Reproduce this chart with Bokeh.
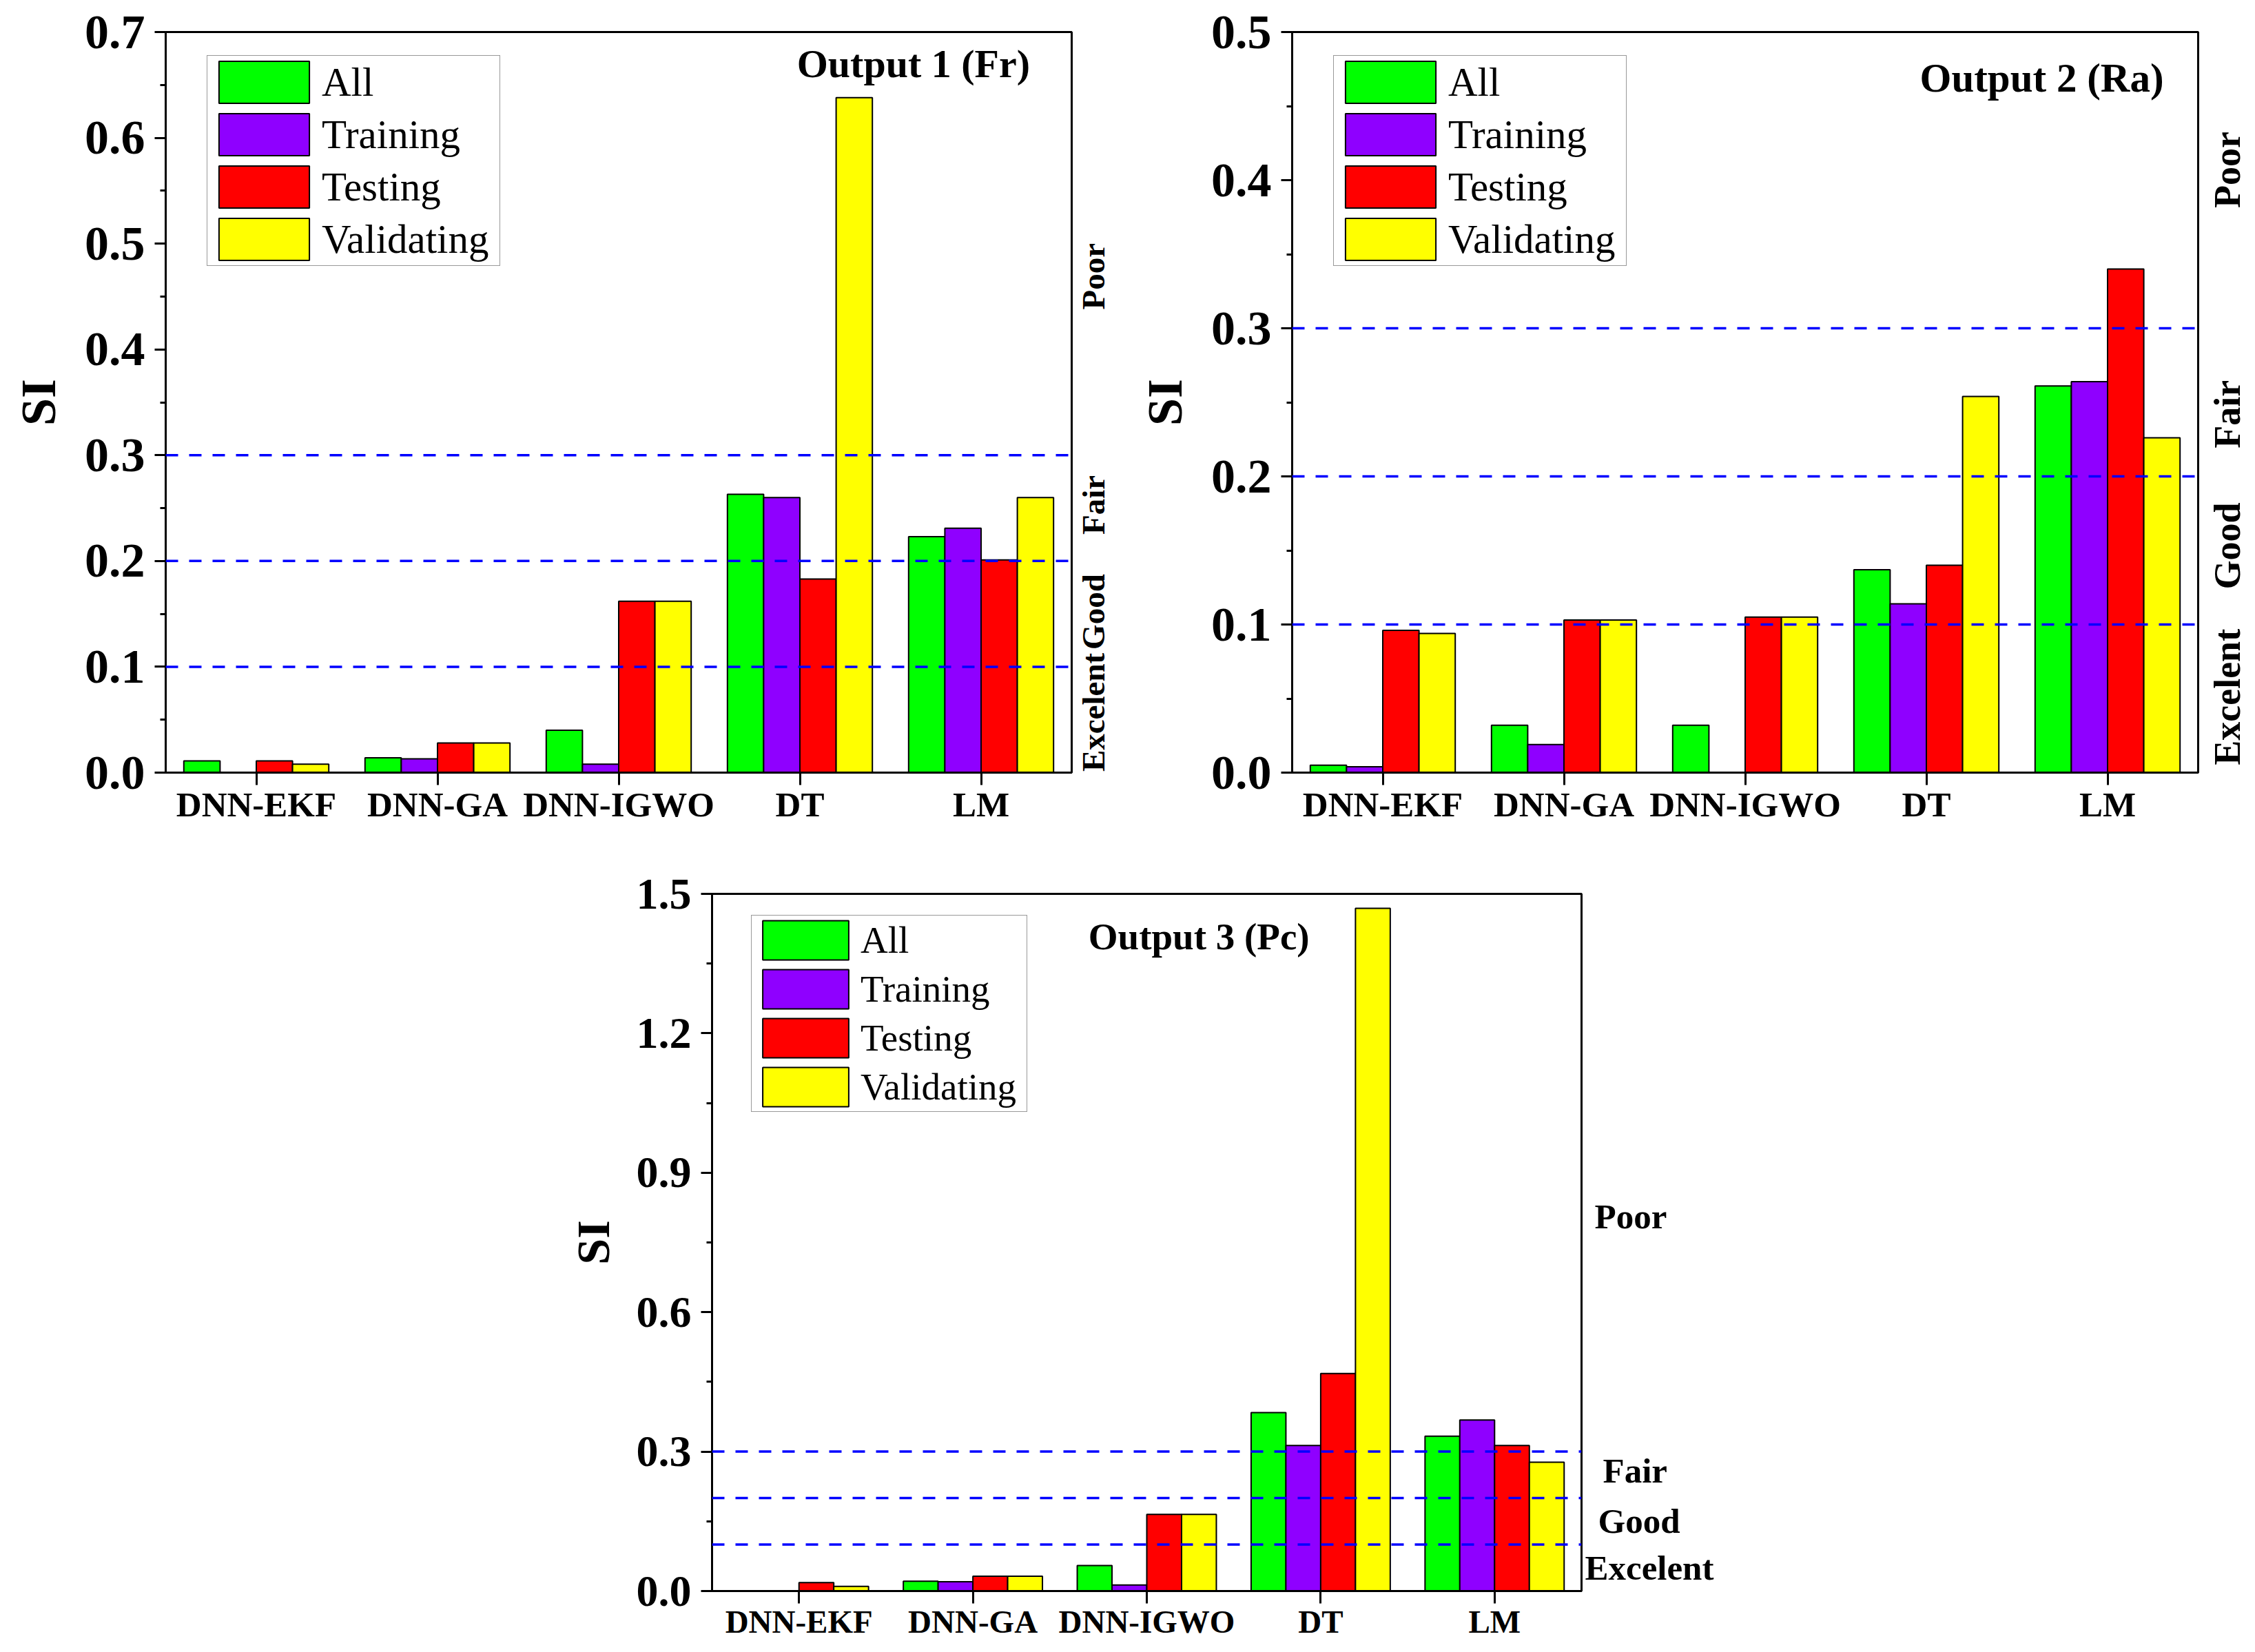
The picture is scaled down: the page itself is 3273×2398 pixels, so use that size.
import numpy as np
from math import pi
from bokeh.plotting import figure
from bokeh.models import (FixedTicker, Span, Label, Legend, LegendItem, Spacer,
                          PrintfTickFormatter, Range1d)
from bokeh.core.properties import value
from bokeh.layouts import row, column
from bokeh.embed import file_html
from bokeh.resources import INLINE

# ---------------- data ----------------
categories = ["DNN-EKF", "DNN-GA", "DNN-IGWO", "DT", "LM"]
series = ["All", "Training", "Testing", "Validating"]

fr_all = [0.011, 0.014, 0.040, 0.263, 0.223]
fr_training = [0.0, 0.013, 0.008, 0.260, 0.231]
fr_testing = [0.011, 0.028, 0.162, 0.183, 0.201]
fr_validating = [0.008, 0.028, 0.162, 0.638, 0.260]

ra_all = [0.005, 0.032, 0.032, 0.137, 0.261]
ra_training = [0.004, 0.019, 0.0, 0.114, 0.264]
ra_testing = [0.096, 0.103, 0.105, 0.140, 0.340]
ra_validating = [0.094, 0.103, 0.105, 0.254, 0.226]

pc_all = [0.0, 0.021, 0.055, 0.384, 0.333]
pc_training = [0.0, 0.020, 0.013, 0.313, 0.368]
pc_testing = [0.018, 0.032, 0.165, 0.468, 0.313]
pc_validating = [0.010, 0.032, 0.165, 1.469, 0.277]

thresholds = [0.1, 0.2, 0.3]
class_labels = ["Excelent", "Good", "Fair", "Poor"]

fr_ticks = [0.0, 0.1, 0.2, 0.3, 0.4, 0.5, 0.6, 0.7]
ra_ticks = [0.0, 0.1, 0.2, 0.3, 0.4, 0.5]
pc_ticks = [0.0, 0.3, 0.6, 0.9, 1.2, 1.5]

# ---------------- styles ----------------
colors = ["#00FF00", "#8F00FF", "#FF0000", "#FFFF00"]
offsets = [-0.3, -0.1, 0.1, 0.3]
FONT = "Liberation Serif"


def make_fig(values, ticks, title, title_pos, cfg):
    ymax = ticks[-1]
    step = ticks[1] - ticks[0]
    minor = [t + step / 2 for t in ticks[:-1]]
    p = figure(width=cfg["width"], height=cfg["height"],
               x_range=Range1d(0.5, 5.5), y_range=Range1d(0, ymax),
               output_backend="svg", toolbar_location=None,
               min_border_left=cfg["bl"], min_border_right=cfg["br"],
               min_border_top=cfg["bt"], min_border_bottom=cfg["bb"])
    p.grid.visible = False
    p.outline_line_color = "black"
    p.outline_line_width = 3
    p.outline_line_alpha = 1.0
    p.background_fill_color = "white"
    p.border_fill_color = "white"

    xs = np.arange(1, len(categories) + 1)
    items = []
    for name, vals, col, off in zip(series, values, colors, offsets):
        r = p.vbar(x=xs + off, top=vals, width=0.2, fill_color=col,
                   line_color="black", line_width=2)
        items.append(LegendItem(label=name, renderers=[r]))

    for t in thresholds:
        p.add_layout(Span(location=t, dimension="width", line_color="#0000FF",
                          line_dash="18 16", line_width=3.5))

    xa = p.xaxis[0]
    xa.ticker = FixedTicker(ticks=list(xs), minor_ticks=[])
    xa.major_label_overrides = {int(i): c for i, c in zip(xs, categories)}
    xa.major_tick_out = 18
    xa.major_tick_in = 0
    xa.minor_tick_out = 0
    xa.major_tick_line_width = 3
    xa.axis_line_width = 3
    xa.major_label_text_font = FONT
    xa.major_label_text_font_style = "bold"
    xa.major_label_text_font_size = cfg["xfs"]
    xa.major_label_text_color = "black"
    xa.major_label_standoff = 0

    ya = p.yaxis[0]
    ya.ticker = FixedTicker(ticks=ticks, minor_ticks=minor)
    ya.formatter = PrintfTickFormatter(format="%.1f")
    ya.major_tick_out = 16
    ya.major_tick_in = 0
    ya.minor_tick_out = 8
    ya.minor_tick_in = 0
    ya.major_tick_line_width = 3
    ya.minor_tick_line_width = 3
    ya.axis_line_width = 3
    ya.major_label_text_font = FONT
    ya.major_label_text_font_style = "bold"
    ya.major_label_text_font_size = cfg["yfs"]
    ya.major_label_text_color = "black"
    ya.major_label_standoff = 14
    ya.axis_label = "SI"
    ya.axis_label_text_font = FONT
    ya.axis_label_text_font_style = "bold"
    ya.axis_label_text_font_size = cfg["lfs"]
    ya.axis_label_text_color = "black"
    ya.axis_label_standoff = cfg["lstand"]

    legend = Legend(items=items, location=cfg["legloc"],
                    glyph_width=cfg["gw"], glyph_height=cfg["gh"],
                    spacing=0, label_width=cfg["lw"],
                    label_text_font=FONT, label_text_font_size=cfg["legfs"],
                    label_text_color="black",
                    label_standoff=2, padding=0, margin=0,
                    border_line_color="#333333", border_line_width=1.5,
                    background_fill_color="white", background_fill_alpha=1.0)
    p.add_layout(legend, "center")

    tx, ty, talign = title_pos
    p.add_layout(Label(x=tx, y=ty, text=title, text_font=FONT,
                       text_font_style="bold", text_font_size=cfg["tfs"],
                       text_color="black",
                       text_align=talign, text_baseline="middle"))
    return p


def class_strip(main, cfg, lab_width, class_x, class_y, rotated, font_size):
    """Narrow panel right of a chart holding the quality-class names,
    sharing the chart's vertical range (frames are aligned within a row)."""
    q = figure(width=lab_width, height=cfg["height"],
               x_range=Range1d(0, lab_width), y_range=main.y_range,
               x_axis_type=None, y_axis_type=None,
               output_backend="svg", toolbar_location=None,
               min_border_left=0, min_border_right=0,
               min_border_top=cfg["bt"], min_border_bottom=cfg["bb"])
    q.outline_line_color = None
    q.background_fill_color = "white"
    q.border_fill_color = "white"
    q.text(x=class_x, y=class_y, text=class_labels,
           angle=(pi / 2 if rotated else 0.0),
           text_font=value(FONT), text_font_style="bold",
           text_font_size=value(font_size), text_color="black",
           text_align=("center" if rotated else "left"), text_baseline="middle")
    return q


cfg1 = dict(width=1557, height=1207, bl=240, br=2, bt=46, bb=86,
            xfs="51px", yfs="70px", lfs="72px", lstand=24, tfs="58px",
            gw=164, gh=76, lw=258, legfs="59px", legloc=(60, 735))
cfg2 = dict(width=1555, height=1207, bl=238, br=2, bt=46, bb=86,
            xfs="51px", yfs="70px", lfs="72px", lstand=24, tfs="59px",
            gw=164, gh=76, lw=258, legfs="59px", legloc=(60, 735))
cfg3 = dict(width=1489, height=1182, bl=225, br=2, bt=90, bb=80,
            xfs="47px", yfs="64px", lfs="68px", lstand=22, tfs="55px",
            gw=156, gh=71, lw=241, legfs="55px", legloc=(57, 695))

p1 = make_fig([fr_all, fr_training, fr_testing, fr_validating], fr_ticks,
              "Output 1 (Fr)", (5.27, 0.670, "right"), cfg1)
p2 = make_fig([ra_all, ra_training, ra_testing, ra_validating], ra_ticks,
              "Output 2 (Ra)", (5.31, 0.469, "right"), cfg2)
p3 = make_fig([pc_all, pc_training, pc_testing, pc_validating], pc_ticks,
              "Output 3 (Pc)", (3.30, 1.408, "center"), cfg3)

s1 = class_strip(p1, cfg1, 80, [29, 29, 29, 29], [0.057, 0.152, 0.253, 0.469], True, "47px")
s2 = class_strip(p2, cfg2, 80, [40, 40, 40, 40], [0.051, 0.153, 0.242, 0.407], True, "54px")
s3 = class_strip(p3, cfg3, 220, [3, 22, 29, 17], [0.050, 0.151, 0.258, 0.806], False, "51px")

layout = column(row(p1, s1, p2, s2), row(Spacer(width=808, height=10), p3, s3))
open("out.html", "w").write(file_html(layout, INLINE))
